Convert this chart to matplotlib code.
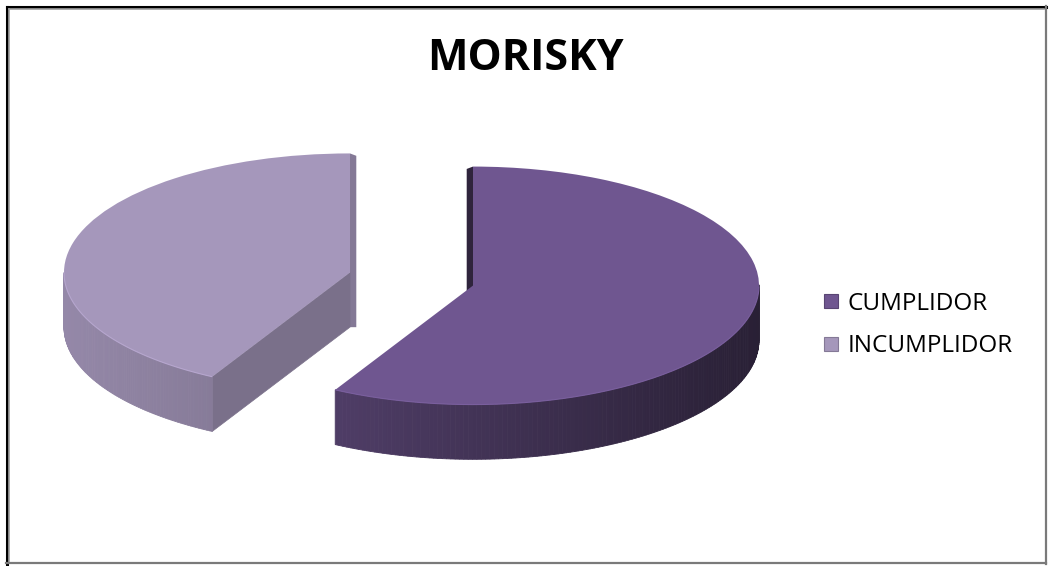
import numpy as np
import matplotlib
matplotlib.use("Agg")
import matplotlib.pyplot as plt
from matplotlib.patches import Polygon
from matplotlib.lines import Line2D
import matplotlib.colors as mcolors

# ---- data ----
title = "MORISKY"
categories = ["CUMPLIDOR", "INCUMPLIDOR"]
values = [58, 42]
top_colors = ["#6f5690", "#a597bb"]
explode = [0.222, 0.222]

# ---- layout ----
W, H = 1049, 566
RX, RY = 286.0, 119.0          # pixels per data unit (x, y) -> tilted ellipse
CX, CY = 411.5, 279.0          # pie centre in pixels (from top-left)
DEPTH = 0.46                   # extrusion depth in data units (y)

fig = plt.figure(figsize=(W / 100, H / 100), dpi=100)
ax = fig.add_axes([0, 0, 1, 1])

wedges, _ = ax.pie(values, explode=explode, startangle=90, counterclock=False,
                   colors=top_colors, radius=1.0,
                   wedgeprops=dict(linewidth=0, zorder=10))
ax.set_aspect("auto")
ax.set_xlim(-CX / RX, (W - CX) / RX)
ax.set_ylim(-(H - CY) / RY, CY / RY)
ax.axis("off")


def shade(color, f):
    rgb = np.array(mcolors.to_rgb(color))
    return tuple(np.clip(rgb * f, 0, 1))


for w, col in zip(wedges, top_colors):
    cx, cy = w.center
    r = w.r
    t1, t2 = np.radians(w.theta1), np.radians(w.theta2)

    # radial faces
    for phi, nrm in ((t1, t1 - np.pi / 2), (t2, t2 + np.pi / 2)):
        px, py = cx + r * np.cos(phi), cy + r * np.sin(phi)
        if np.sin(nrm) < -0.05:
            poly = [(cx, cy), (px, py), (px, py - DEPTH), (cx, cy - DEPTH)]
            ax.add_patch(Polygon(poly, closed=True, facecolor=shade(col, 0.74),
                                 edgecolor=shade(col, 0.74), lw=0.5, zorder=4))
        elif abs(np.sin(nrm)) <= 0.05:
            # nearly edge-on face: thin strip seen through perspective
            dx = 0.022 * np.sign(np.cos(nrm))
            f = 0.42 if col == top_colors[0] else 0.8
            poly = [(cx, cy - DEPTH), (px, py), (px + dx, py - 0.02),
                    (cx + dx, cy - DEPTH)]
            ax.add_patch(Polygon(poly, closed=True, facecolor=shade(col, f),
                                 edgecolor="none", zorder=4))

    # outer curved wall
    n = 240
    angs = np.linspace(t1, t2, n + 1)
    for a, b in zip(angs[:-1], angs[1:]):
        m = 0.5 * (a + b)
        if np.sin(m) >= 0.0:
            continue
        f = 0.60 - 0.23 * np.cos(m)
        if col == top_colors[1]:
            f = 0.74 - 0.16 * np.cos(m)
        c = shade(col, f)
        poly = [(cx + r * np.cos(a), cy + r * np.sin(a)),
                (cx + r * np.cos(b), cy + r * np.sin(b)),
                (cx + r * np.cos(b), cy + r * np.sin(b) - DEPTH),
                (cx + r * np.cos(a), cy + r * np.sin(a) - DEPTH)]
        ax.add_patch(Polygon(poly, closed=True, facecolor=c, edgecolor=c,
                             lw=0.6, zorder=5))

    # light rim on the front edge of the top face
    front = angs[np.sin(angs) < 0]
    if len(front):
        ax.plot(cx + r * np.cos(front), cy + r * np.sin(front),
                color=shade(col, 1.1), lw=0.8, zorder=11,
                solid_capstyle="butt")

# ---- title ----
fig.text(525.5 / W, 1 - 59 / H, title, ha="center", va="center",
         fontsize=31, fontweight="bold", family=["Open Sans", "DejaVu Sans"])

# ---- legend ----
handles = [Line2D([], [], marker="s", linestyle="none", markersize=10,
                  markerfacecolor=c, markeredgecolor=shade(c, 0.8),
                  markeredgewidth=0.8) for c in top_colors]
leg = fig.legend(handles, categories, loc="center left",
                 bbox_to_anchor=(812 / W, 1 - 325 / H), frameon=False,
                 prop=dict(family=["Open Sans", "DejaVu Sans"], size=17.5),
                 handlelength=0.8, handletextpad=0.25, labelspacing=0.78,
                 borderaxespad=0)

# ---- frame ----
fig.add_artist(Line2D([6.5 / W, 6.5 / W], [1 - 6.5 / H, 1 - 563.5 / H],
                      transform=fig.transFigure, color="black", lw=2.2))
fig.add_artist(Line2D([6.5 / W, 1045.5 / W], [1 - 6.5 / H, 1 - 6.5 / H],
                      transform=fig.transFigure, color="black", lw=2.2))
fig.add_artist(Line2D([9 / W, 9 / W], [1 - 9 / H, 1 - 562 / H],
                      transform=fig.transFigure, color="#a0a0a0", lw=1.2))
fig.add_artist(Line2D([9 / W, 1044 / W], [1 - 9 / H, 1 - 9 / H],
                      transform=fig.transFigure, color="#a0a0a0", lw=1.2))
fig.add_artist(Line2D([1046 / W, 1046 / W], [1 - 6 / H, 1 - 563.5 / H],
                      transform=fig.transFigure, color="#7a7a7a", lw=1.6))
fig.add_artist(Line2D([6 / W, 1046 / W], [1 - 563 / H, 1 - 563 / H],
                      transform=fig.transFigure, color="#7a7a7a", lw=1.6))

fig.savefig("out.png", dpi=100, facecolor="white")
